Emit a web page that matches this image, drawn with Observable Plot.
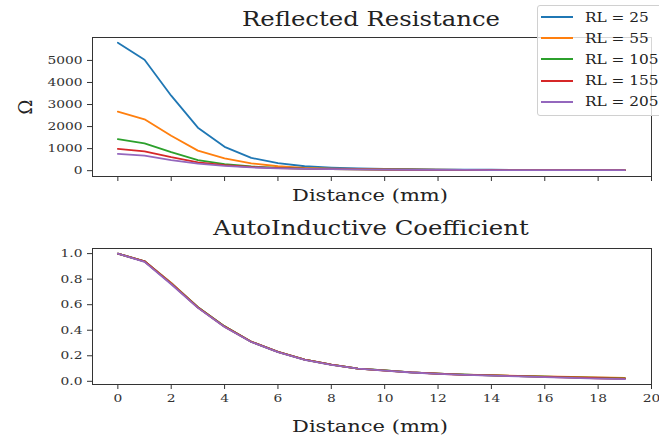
<!DOCTYPE html>
<html>
<head>
<meta charset="utf-8">
<script src="https://cdn.jsdelivr.net/npm/d3@7"></script>
<script src="https://cdn.jsdelivr.net/npm/@observablehq/plot@0.6"></script>
<style>
  html, body { margin: 0; padding: 0; background: #fff; }
  #wrap { position: relative; width: 659px; height: 439px; font-family: "DejaVu Serif", serif; color: #222; overflow: hidden; }
  #wrap svg { position: absolute; left: 0; }
  .t { position: absolute; white-space: nowrap; transform: translate(-50%, -50%) scaleX(1.2); color: #222; }
  #legend { position: absolute; left: 537px; top: 5px; width: 135px; height: 111px; background: rgba(255,255,255,0.8); border: 1px solid #d0d0d0; border-radius: 3px; box-sizing: border-box; }
  .lrow { position: absolute; left: 3px; height: 16px; display: flex; align-items: center; font-size: 13px; color: #222; }
  .lrow span.sw { display: inline-block; width: 32px; height: 2px; margin-right: 12px; }
  .lrow span.lt { display: inline-block; transform: scaleX(1.18); transform-origin: left center; }
</style>
</head>
<body>
<div id="wrap"></div>
<script>
const distance = [0,1,2,3,4,5,6,7,8,9,10,11,12,13,14,15,16,17,18,19];
const seriesNames = ["RL = 25", "RL = 55", "RL = 105", "RL = 155", "RL = 205"];
const colors = ["#1f77b4", "#ff7f0e", "#2ca02c", "#d62728", "#9467bd"];

// Reflected resistance (Ω)
const res25  = [5800, 5030, 3400, 1950, 1080, 580, 340, 200, 140, 100, 80, 65, 55, 48, 43, 38, 35, 32, 30, 28];
const res55  = [2680, 2330, 1580, 910, 560, 330, 200, 130, 95, 75, 60, 50, 44, 39, 35, 32, 30, 28, 26, 25];
const res105 = [1430, 1240, 840, 480, 300, 190, 130, 95, 75, 60, 50, 43, 38, 34, 31, 29, 27, 25, 24, 23];
const res155 = [990, 870, 610, 380, 250, 165, 118, 88, 70, 57, 48, 41, 36, 32, 29, 27, 25, 24, 23, 22];
const res205 = [760, 680, 480, 320, 215, 148, 108, 82, 66, 54, 46, 40, 35, 31, 28, 26, 24, 23, 22, 21];

// AutoInductive coefficient
const ai25  = [1.0, 0.94, 0.77, 0.58, 0.43, 0.31, 0.23, 0.17, 0.13, 0.10, 0.085, 0.07, 0.06, 0.052, 0.047, 0.041, 0.036, 0.032, 0.028, 0.025];
const ai55  = [1.0, 0.94, 0.77, 0.58, 0.43, 0.31, 0.23, 0.17, 0.13, 0.10, 0.085, 0.07, 0.06, 0.053, 0.049, 0.043, 0.038, 0.034, 0.030, 0.027];
const ai105 = [1.0, 0.94, 0.765, 0.58, 0.43, 0.31, 0.23, 0.17, 0.13, 0.10, 0.085, 0.07, 0.06, 0.052, 0.047, 0.041, 0.036, 0.031, 0.026, 0.022];
const ai155 = [1.0, 0.94, 0.765, 0.578, 0.428, 0.31, 0.23, 0.17, 0.13, 0.10, 0.084, 0.07, 0.059, 0.051, 0.046, 0.040, 0.035, 0.030, 0.024, 0.020];
const ai205 = [1.0, 0.935, 0.76, 0.575, 0.425, 0.308, 0.228, 0.168, 0.128, 0.099, 0.083, 0.069, 0.058, 0.05, 0.045, 0.039, 0.033, 0.027, 0.021, 0.017];

const yTicksRes = [0, 1000, 2000, 3000, 4000, 5000];
const yTicksAi = [0, 0.2, 0.4, 0.6, 0.8, 1.0];
const xTicks = [0, 2, 4, 6, 8, 10, 12, 14, 16, 18, 20];

const resSeries = [res25, res55, res105, res155, res205];
const aiSeries = [ai25, ai55, ai105, ai155, ai205];

function toRows(series) {
  const rows = [];
  series.forEach((vals, i) => vals.forEach((v, j) => rows.push({x: distance[j], y: v, s: seriesNames[i]})));
  return rows;
}
const resRows = toRows(resSeries);
const aiRows = toRows(aiSeries);

const wrap = document.getElementById("wrap");
const FONT = "DejaVu Serif";

const common = {
  width: 659,
  marginLeft: 92,
  marginRight: 8,
  style: {fontFamily: FONT, fontSize: "11.5px", color: "#333", background: "transparent", overflow: "visible"},
  color: {domain: seriesNames, range: colors}
};

function widenTickLabels(svg) {
  d3.select(svg).selectAll('g[aria-label="y-axis tick label"] text, g[aria-label="x-axis tick label"] text')
    .attr("transform", function() { return (this.getAttribute("transform") || "") + " scale(1.2,1)"; });
}

const topChart = Plot.plot({
  ...common,
  height: 205,
  marginTop: 37,
  marginBottom: 29,
  x: {domain: [-0.95, 20], label: null},
  y: {domain: [-265, 6040], label: null},
  marks: [
    Plot.axisX({ticks: xTicks, tickFormat: () => "", tickSize: 5, label: null}),
    Plot.axisY({ticks: yTicksRes, tickFormat: d3.format("d"), tickSize: 5, tickPadding: 5, label: null}),
    Plot.line(resRows, {x: "x", y: "y", stroke: "s", strokeWidth: 1.8, z: "s"}),
    Plot.frame({stroke: "#333", strokeWidth: 1})
  ]
});
widenTickLabels(topChart);
topChart.style.top = "0px";
wrap.appendChild(topChart);

const bottomChart = Plot.plot({
  ...common,
  height: 234,
  marginTop: 43,
  marginBottom: 55,
  x: {domain: [-0.95, 20], label: null},
  y: {domain: [-0.025, 1.04], label: null},
  marks: [
    Plot.axisX({ticks: xTicks, tickSize: 5, tickPadding: 4, label: null}),
    Plot.axisY({ticks: yTicksAi, tickFormat: d3.format(".1f"), tickSize: 5, tickPadding: 5, label: null}),
    Plot.line(aiRows, {x: "x", y: "y", stroke: "s", strokeWidth: 1.8, z: "s"}),
    Plot.frame({stroke: "#333", strokeWidth: 1})
  ]
});
widenTickLabels(bottomChart);
bottomChart.style.top = "205px";
wrap.appendChild(bottomChart);

function addText(txt, x, y, size, rot) {
  const d = document.createElement("div");
  d.className = "t";
  d.textContent = txt;
  d.style.left = x + "px";
  d.style.top = y + "px";
  d.style.fontSize = size + "px";
  if (rot) d.style.transform = "translate(-50%, -50%) rotate(-90deg)";
  wrap.appendChild(d);
}
addText("Reflected Resistance", 371, 19, 20.3);
addText("Distance (mm)", 370, 195, 17.5);
addText("Ω", 25, 107, 18, true);
addText("AutoInductive Coefficient", 371, 228, 20.3);
addText("Distance (mm)", 370, 426, 17.5);

const legend = document.createElement("div");
legend.id = "legend";
seriesNames.forEach((n, i) => {
  const r = document.createElement("div");
  r.className = "lrow";
  r.style.top = (3 + i * 21.2) + "px";
  const sw = document.createElement("span");
  sw.className = "sw";
  sw.style.background = colors[i];
  r.appendChild(sw);
  const lt = document.createElement("span");
  lt.className = "lt";
  lt.textContent = n;
  r.appendChild(lt);
  legend.appendChild(r);
});
wrap.appendChild(legend);
</script>
</body>
</html>
